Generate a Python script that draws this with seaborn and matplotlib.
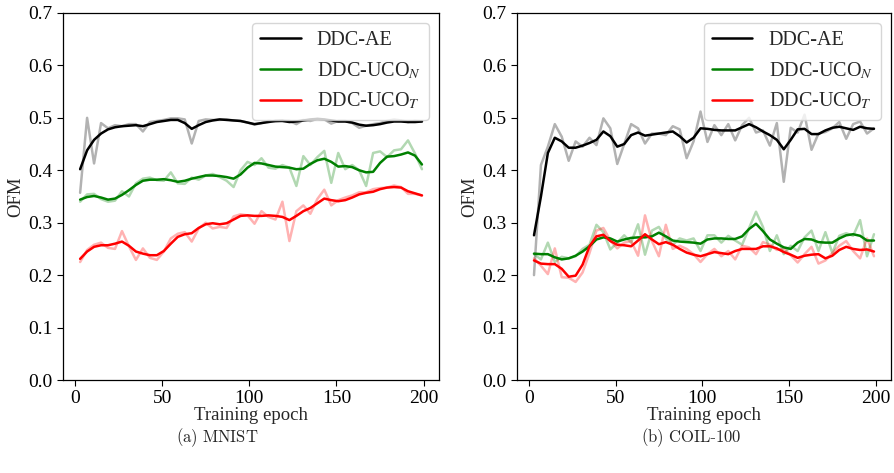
import numpy as np
import matplotlib
matplotlib.use("Agg")
import matplotlib.pyplot as plt
import seaborn as sns

# epochs at which OFM was evaluated
epochs = list(range(3, 200, 4))

# (a) MNIST
mnist_ae_raw = [0.357, 0.500, 0.413, 0.490, 0.480, 0.486, 0.484, 0.488, 0.488, 0.474,
                0.492, 0.494, 0.496, 0.499, 0.499, 0.497, 0.451, 0.494, 0.497, 0.496,
                0.496, 0.497, 0.495, 0.494, 0.491, 0.487, 0.490, 0.494, 0.493, 0.495,
                0.494, 0.488, 0.496, 0.494, 0.498, 0.497, 0.489, 0.494, 0.494, 0.490,
                0.481, 0.485, 0.488, 0.490, 0.494, 0.497, 0.495, 0.492, 0.494, 0.493]
mnist_ae = [0.402, 0.438, 0.458, 0.470, 0.478, 0.482, 0.484, 0.485, 0.486, 0.484,
            0.488, 0.492, 0.494, 0.496, 0.496, 0.490, 0.479, 0.486, 0.492, 0.495,
            0.497, 0.496, 0.495, 0.494, 0.491, 0.488, 0.490, 0.492, 0.494, 0.494,
            0.492, 0.493, 0.495, 0.497, 0.498, 0.497, 0.495, 0.493, 0.493, 0.491,
            0.487, 0.485, 0.486, 0.488, 0.491, 0.493, 0.493, 0.492, 0.492, 0.493]
mnist_n_raw = [0.340, 0.354, 0.355, 0.345, 0.340, 0.342, 0.360, 0.350, 0.375, 0.384,
               0.386, 0.381, 0.380, 0.396, 0.375, 0.374, 0.386, 0.382, 0.390, 0.393,
               0.387, 0.380, 0.368, 0.400, 0.416, 0.410, 0.423, 0.405, 0.403, 0.410,
               0.405, 0.370, 0.427, 0.410, 0.425, 0.437, 0.376, 0.433, 0.402, 0.410,
               0.400, 0.370, 0.433, 0.436, 0.425, 0.438, 0.440, 0.457, 0.432, 0.402]
mnist_n = [0.344, 0.349, 0.351, 0.348, 0.344, 0.346, 0.353, 0.362, 0.372, 0.380,
           0.382, 0.382, 0.383, 0.381, 0.378, 0.380, 0.384, 0.387, 0.390, 0.390,
           0.389, 0.387, 0.384, 0.392, 0.405, 0.414, 0.413, 0.410, 0.407, 0.406,
           0.405, 0.402, 0.403, 0.412, 0.419, 0.422, 0.416, 0.407, 0.408, 0.406,
           0.400, 0.396, 0.397, 0.414, 0.426, 0.427, 0.430, 0.434, 0.428, 0.411]
mnist_t_raw = [0.225, 0.248, 0.258, 0.262, 0.252, 0.250, 0.284, 0.255, 0.229, 0.251,
               0.233, 0.229, 0.245, 0.270, 0.279, 0.282, 0.264, 0.289, 0.300, 0.289,
               0.292, 0.290, 0.312, 0.316, 0.314, 0.298, 0.322, 0.311, 0.306, 0.340,
               0.265, 0.322, 0.333, 0.317, 0.345, 0.363, 0.333, 0.343, 0.348, 0.352,
               0.358, 0.358, 0.364, 0.366, 0.367, 0.371, 0.368, 0.355, 0.355, 0.352]
mnist_t = [0.231, 0.245, 0.254, 0.257, 0.257, 0.260, 0.264, 0.256, 0.245, 0.241,
           0.238, 0.238, 0.246, 0.260, 0.273, 0.278, 0.280, 0.290, 0.297, 0.299,
           0.297, 0.299, 0.306, 0.313, 0.314, 0.313, 0.313, 0.314, 0.313, 0.311,
           0.305, 0.313, 0.322, 0.328, 0.337, 0.346, 0.343, 0.341, 0.343, 0.348,
           0.354, 0.357, 0.359, 0.364, 0.367, 0.368, 0.367, 0.360, 0.356, 0.352]

# (b) COIL-100
coil_ae_raw = [0.200, 0.410, 0.445, 0.488, 0.464, 0.418, 0.455, 0.445, 0.462, 0.448,
               0.499, 0.480, 0.412, 0.450, 0.488, 0.480, 0.451, 0.470, 0.470, 0.467,
               0.484, 0.478, 0.423, 0.455, 0.512, 0.454, 0.486, 0.467, 0.488, 0.457,
               0.486, 0.500, 0.472, 0.476, 0.447, 0.490, 0.378, 0.481, 0.472, 0.506,
               0.439, 0.470, 0.473, 0.480, 0.492, 0.460, 0.488, 0.493, 0.470, 0.480]
coil_ae = [0.276, 0.350, 0.433, 0.462, 0.455, 0.443, 0.443, 0.447, 0.452, 0.458,
           0.474, 0.465, 0.445, 0.450, 0.467, 0.472, 0.466, 0.468, 0.470, 0.472,
           0.474, 0.465, 0.453, 0.462, 0.480, 0.479, 0.477, 0.476, 0.476, 0.476,
           0.482, 0.488, 0.482, 0.474, 0.467, 0.458, 0.440, 0.458, 0.478, 0.479,
           0.469, 0.469, 0.476, 0.481, 0.483, 0.480, 0.477, 0.483, 0.480, 0.479]
coil_n_raw = [0.240, 0.230, 0.262, 0.225, 0.235, 0.232, 0.236, 0.250, 0.258, 0.296,
              0.282, 0.249, 0.262, 0.276, 0.262, 0.297, 0.239, 0.285, 0.292, 0.270,
              0.258, 0.270, 0.266, 0.270, 0.246, 0.276, 0.276, 0.262, 0.275, 0.266,
              0.258, 0.290, 0.321, 0.292, 0.246, 0.276, 0.240, 0.256, 0.246, 0.272,
              0.285, 0.246, 0.282, 0.242, 0.275, 0.280, 0.275, 0.305, 0.236, 0.278]
coil_n = [0.241, 0.240, 0.240, 0.234, 0.230, 0.232, 0.237, 0.245, 0.255, 0.268,
          0.272, 0.270, 0.264, 0.268, 0.271, 0.272, 0.272, 0.274, 0.281, 0.274,
          0.266, 0.264, 0.263, 0.262, 0.260, 0.268, 0.270, 0.270, 0.269, 0.269,
          0.274, 0.288, 0.298, 0.284, 0.268, 0.260, 0.253, 0.250, 0.262, 0.269,
          0.268, 0.263, 0.262, 0.262, 0.270, 0.276, 0.278, 0.275, 0.266, 0.266]
coil_t_raw = [0.232, 0.218, 0.202, 0.251, 0.196, 0.195, 0.187, 0.205, 0.242, 0.285,
              0.290, 0.266, 0.251, 0.262, 0.265, 0.237, 0.314, 0.265, 0.236, 0.296,
              0.250, 0.256, 0.250, 0.240, 0.225, 0.240, 0.250, 0.236, 0.246, 0.230,
              0.256, 0.253, 0.240, 0.263, 0.258, 0.248, 0.250, 0.238, 0.224, 0.240,
              0.254, 0.222, 0.228, 0.242, 0.256, 0.265, 0.246, 0.232, 0.270, 0.236]
coil_t = [0.228, 0.222, 0.221, 0.221, 0.212, 0.197, 0.199, 0.220, 0.255, 0.274,
          0.277, 0.265, 0.258, 0.257, 0.255, 0.266, 0.278, 0.268, 0.259, 0.263,
          0.258, 0.250, 0.243, 0.239, 0.236, 0.240, 0.244, 0.242, 0.240, 0.246,
          0.250, 0.250, 0.250, 0.255, 0.255, 0.251, 0.244, 0.239, 0.233, 0.237,
          0.239, 0.240, 0.232, 0.237, 0.248, 0.254, 0.250, 0.248, 0.249, 0.245]

labels = ["DDC-AE", r"DDC-UCO$_N$", r"DDC-UCO$_T$"]
colors = ["black", "green", "red"]
captions = [r"$\mathrm{(a)\ MNIST}$", r"$\mathrm{(b)\ COIL}$-$\mathrm{100}$"]

sns.set_style("ticks")
plt.rcParams["font.family"] = ["Liberation Serif", "DejaVu Serif"]
plt.rcParams["mathtext.fontset"] = "stix"

fig = plt.figure(figsize=(8.94, 4.73), dpi=100)
ax1 = fig.add_axes([0.0705, 0.1966, 0.4206, 0.776])
ax2 = fig.add_axes([0.5783, 0.1966, 0.4183, 0.776])

panels = [
    (ax1, [mnist_ae_raw, mnist_n_raw, mnist_t_raw], [mnist_ae, mnist_n, mnist_t]),
    (ax2, [coil_ae_raw, coil_n_raw, coil_t_raw], [coil_ae, coil_n, coil_t]),
]

for ax, raws, smooths in panels:
    for raw, c in zip(raws, colors):
        sns.lineplot(x=epochs, y=raw, color=c, alpha=0.3, lw=1.8, ax=ax)
    for sm, c, lab in zip(smooths, colors, labels):
        sns.lineplot(x=epochs, y=sm, color=c, lw=1.8, label=lab, ax=ax)
    ax.set_ylim(0, 0.7)
    ax.set_yticks(np.arange(0, 0.71, 0.1))
    ax.set_xticks([0, 50, 100, 150, 200])
    ax.set_xlabel("Training epoch", fontsize=13.5, labelpad=0)
    ax.set_ylabel("OFM", fontsize=13.5, labelpad=3)
    ax.tick_params(labelsize=14, length=4, width=0.8, colors="black")
    for s in ax.spines.values():
        s.set_color("black")
        s.set_linewidth(0.9)
    ax.legend(loc="upper right", fontsize=14.5, framealpha=0.8)

fig.text(0.243, 0.075, captions[0], ha="center", va="center", fontsize=12,
         math_fontfamily="cm")
fig.text(0.773, 0.075, captions[1], ha="center", va="center", fontsize=12,
         math_fontfamily="cm")

fig.savefig("out.png", dpi=100)
